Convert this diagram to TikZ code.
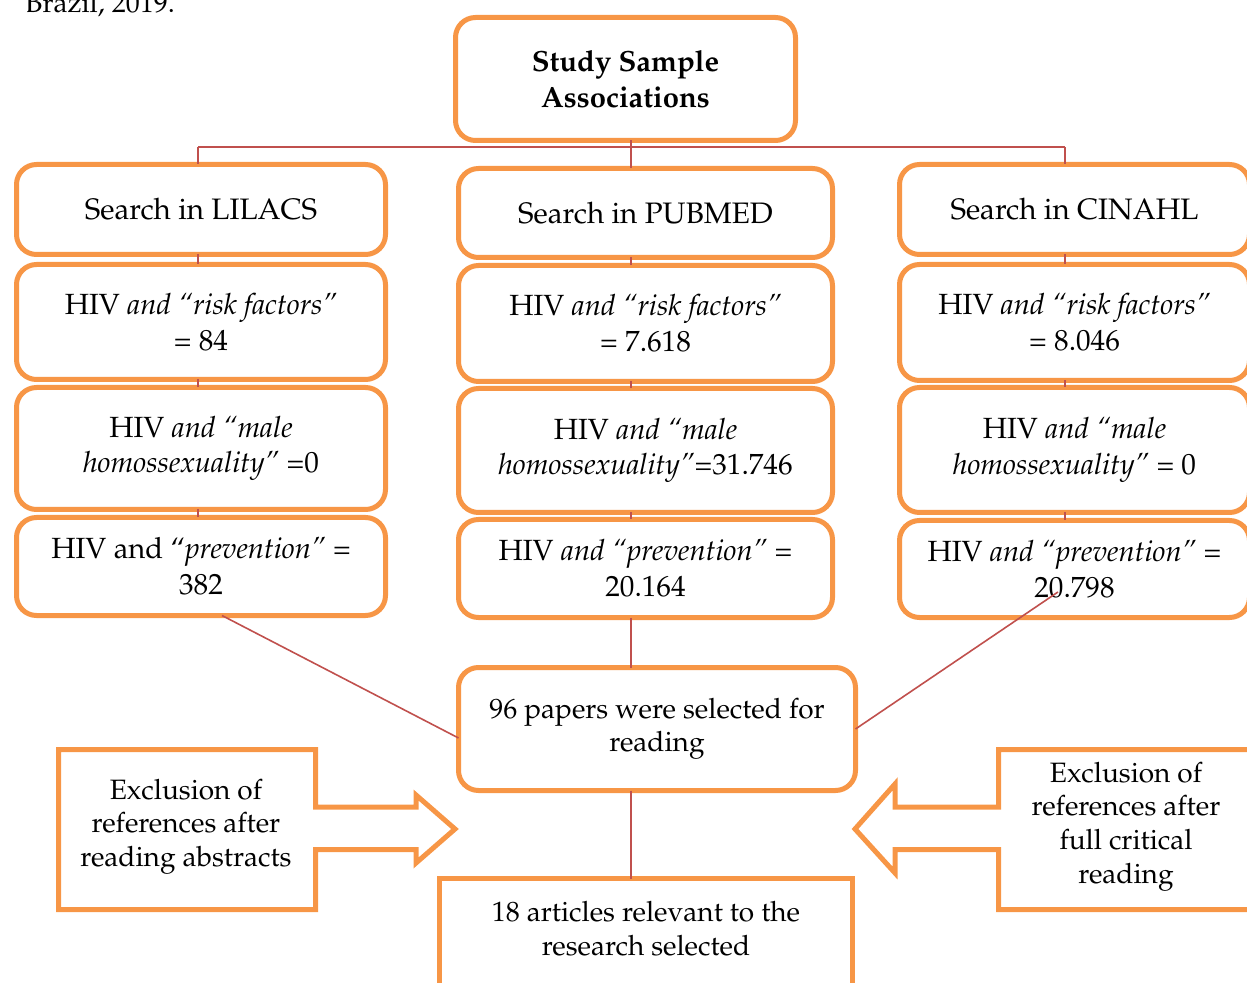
\documentclass[tikz,border=0pt]{standalone}
\usepackage[T1]{fontenc}
\usepackage{mathpazo}
\usepackage{tikz}
\usetikzlibrary{calc}
\definecolor{boxorange}{HTML}{F79646}
\definecolor{linkred}{HTML}{C0504D}

\begin{document}
\begin{tikzpicture}[x=0.5pt,y=-0.5pt,
    box/.style={draw=boxorange,line width=2.5pt,rounded corners=10pt,fill=white,outer sep=0pt,align=center,font=\fontsize{14.6}{17.8}\selectfont},
    frame/.style={draw=boxorange,line width=2.5pt},
    link/.style={linkred,line width=0.8pt},
    label/.style={align=center,font=\fontsize{14}{16.8}\selectfont}]
    \useasboundingbox (0,0) rectangle (1247,983);
    % Caption remnant
    \node[anchor=base west,inner sep=0pt,font=\fontsize{14}{17}\selectfont] (cap) at (25,13) {Brazil, 2019.};
    % Title box
    \node[box,minimum width=170pt,minimum height=61.5pt] (top) at (625.5,79) {\textbf{Study Sample}\\\textbf{Associations}};
    % LILACS column
    \node[box,font=\fontsize{14.8}{17.8}\selectfont,minimum width=184.5pt,minimum height=45pt] (s1) at (201,209.5) {Search in LILACS};
    \node[box,minimum width=184.5pt,minimum height=57.5pt] (r1) at (201,322) {HIV \textit{and ``risk factors''}\\= 84};
    \node[box,minimum width=184.5pt,minimum height=61pt] (m1) at (201,448.5) {HIV \textit{and ``male}\\\textit{homossexuality''} =0};
    \node[box,minimum width=184.5pt,minimum height=49pt] (p1) at (201,566.5) {HIV and ``\textit{prevention''} =\\382};
    % PUBMED column
    \node[box,font=\fontsize{14.8}{17.8}\selectfont,minimum width=187pt,minimum height=44.5pt] (s2) at (645.5,213) {Search in PUBMED};
    \node[box,minimum width=187pt,minimum height=58pt] (r2) at (645.5,323.5) {HIV \textit{and ``risk factors''}\\= 7.618};
    \node[box,minimum width=187pt,minimum height=62pt] (m2) at (645.5,450.5) {HIV \textit{and ``male}\\\textit{homossexuality''}=31.746};
    \node[box,minimum width=187pt,minimum height=49pt] (p2) at (645.5,568.5) {HIV \textit{and ``prevention''} =\\20.164};
    % CINAHL column
    \node[box,font=\fontsize{14.8}{17.8}\selectfont,minimum width=175pt,minimum height=45pt] (s3) at (1074.5,209.5) {Search in CINAHL};
    \node[box,minimum width=175pt,minimum height=58pt] (r3) at (1074.5,322.5) {HIV \textit{and ``risk factors''}\\= 8.046};
    \node[box,minimum width=175pt,minimum height=62.5pt] (m3) at (1074.5,450) {HIV \textit{and ``male}\\\textit{homossexuality''} = 0};
    \node[box,minimum width=175pt,minimum height=48.5pt] (p3) at (1074.5,569) {HIV \textit{and ``prevention''} =\\20.798};
    % Selection
    \node[box,font=\fontsize{14}{16.8}\selectfont,minimum width=198.5pt,minimum height=61.5pt] (sel) at (657,729) {96 papers were selected for\\reading};
    \coordinate (resTL) at (439.5,878.5);
    \coordinate (resTR) at (852.5,878.5);
    \draw[frame] ($(resTL)+(0,150)$) -- (resTL) -- (resTR) -- ($(resTR)+(0,150)$);
    \node[label] (res) at (646,928.5) {18 articles relevant to the\\research selected};
    % Exclusion arrows
    \draw[frame,line join=miter] (58.5,749.5) -- (315.5,749.5) -- (315.5,807) -- (416,807) -- (416,795)
        -- (455,829) -- (416,863) -- (416,849.5) -- (315.5,849.5) -- (315.5,909.5) -- (58.5,909.5) -- cycle;
    \node[label] (exA) at (186,826.5) {Exclusion of\\references after\\reading abstracts};
    \draw[frame,line join=miter] (1262,749.5) -- (998.5,749.5) -- (998.5,807) -- (895,807) -- (895,784)
        -- (855,829) -- (895,873) -- (895,849.5) -- (998.5,849.5) -- (998.5,909.5) -- (1262,909.5);
    \node[label] (exB) at (1126,826.5) {Exclusion of\\references after\\full critical\\reading};
    % Connectors
    \coordinate (bus) at (631,147);
    \coordinate (busL) at (198,147);
    \coordinate (busR) at (1065,147);
    \draw[link] (bus |- top.south) -- (bus);
    \draw[link] (busL) -- (busR);
    \draw[link] (busL) -- (busL |- s1.north);
    \draw[link] (bus) -- (bus |- s2.north);
    \draw[link] (busR) -- (busR |- s3.north);
    \draw[link] (busL |- s1.south) -- (busL |- r1.north);
    \draw[link] (busL |- r1.south) -- (busL |- m1.north);
    \draw[link] (busL |- m1.south) -- (busL |- p1.north);
    \draw[link] (bus |- s2.south) -- (bus |- r2.north);
    \draw[link] (bus |- r2.south) -- (bus |- m2.north);
    \draw[link] (bus |- m2.south) -- (bus |- p2.north);
    \draw[link] (busR |- s3.south) -- (busR |- r3.north);
    \draw[link] (busR |- r3.south) -- (busR |- m3.north);
    \draw[link] (busR |- m3.south) -- (busR |- p3.north);
    \coordinate (pend) at (1058,592);
    \draw[link] ([xshift=10.5pt]p1.south) -- ([yshift=-4.5pt]sel.west);
    \draw[link] (bus |- p2.south) -- (bus |- sel.north);
    \draw[link] (sel.east) -- (pend);
    \draw[link] (bus |- sel.south) -- (bus |- resTL);
\end{tikzpicture}
\end{document}
